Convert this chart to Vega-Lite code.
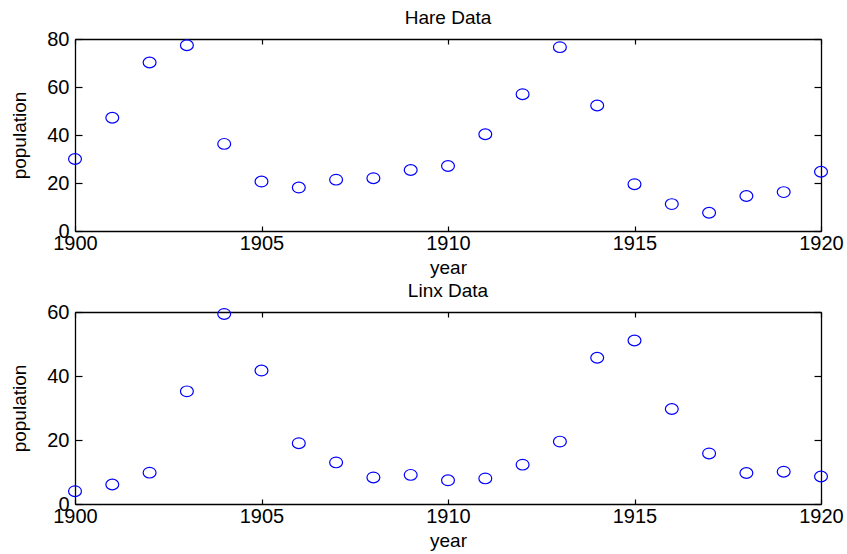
{
  "$schema": "https://vega.github.io/schema/vega-lite/v6.json",
  "background": "white",
  "padding": {"left": 10, "top": 9, "right": 2, "bottom": 2},
  "data": {"values": [
    {"year": 1900, "hare": 30.0, "lynx": 4.0},
    {"year": 1901, "hare": 47.2, "lynx": 6.1},
    {"year": 1902, "hare": 70.2, "lynx": 9.8},
    {"year": 1903, "hare": 77.4, "lynx": 35.2},
    {"year": 1904, "hare": 36.3, "lynx": 59.4},
    {"year": 1905, "hare": 20.6, "lynx": 41.7},
    {"year": 1906, "hare": 18.1, "lynx": 19.0},
    {"year": 1907, "hare": 21.4, "lynx": 13.0},
    {"year": 1908, "hare": 22.0, "lynx": 8.3},
    {"year": 1909, "hare": 25.4, "lynx": 9.1},
    {"year": 1910, "hare": 27.1, "lynx": 7.4},
    {"year": 1911, "hare": 40.3, "lynx": 8.0},
    {"year": 1912, "hare": 57.0, "lynx": 12.3},
    {"year": 1913, "hare": 76.6, "lynx": 19.5},
    {"year": 1914, "hare": 52.3, "lynx": 45.7},
    {"year": 1915, "hare": 19.5, "lynx": 51.1},
    {"year": 1916, "hare": 11.2, "lynx": 29.7},
    {"year": 1917, "hare": 7.6, "lynx": 15.8},
    {"year": 1918, "hare": 14.6, "lynx": 9.7},
    {"year": 1919, "hare": 16.2, "lynx": 10.1},
    {"year": 1920, "hare": 24.7, "lynx": 8.6}
  ]},
  "vconcat": [
    {
      "title": {"text": "Hare Data", "offset": 1},
      "width": 746,
      "height": 192,
      "layer": [
        {
          "mark": {"type": "point", "shape": "M-1.2,0A1.2,1 0 1,0 1.2,0A1.2,1 0 1,0 -1.2,0Z", "size": 115, "color": "#0000ff", "strokeWidth": 1.2, "filled": false, "opacity": 1, "clip": false},
          "encoding": {
            "x": {"field": "year", "type": "quantitative", "scale": {"domain": [1900, 1920], "nice": false, "zero": false}, "axis": {"orient": "bottom", "values": [1900, 1905, 1910, 1915, 1920], "format": "d", "title": "year", "tickSize": -5, "labelPadding": 7, "titlePadding": 5}},
            "y": {"field": "hare", "type": "quantitative", "scale": {"domain": [0, 80], "nice": false}, "axis": {"orient": "left", "values": [0, 20, 40, 60, 80], "title": "population", "tickSize": -7, "labelPadding": 13, "titlePadding": 17}}
          }
        },
        {
          "mark": {"type": "point", "opacity": 0},
          "encoding": {
            "x": {"field": "year", "type": "quantitative", "scale": {"domain": [1900, 1920], "nice": false, "zero": false}, "axis": {"orient": "top", "values": [1900, 1905, 1910, 1915, 1920], "labels": false, "title": null, "tickSize": -5}},
            "y": {"field": "hare", "type": "quantitative", "scale": {"domain": [0, 80], "nice": false}, "axis": {"orient": "right", "values": [0, 20, 40, 60, 80], "labels": false, "title": null, "tickSize": -7}}
          }
        }
      ],
      "resolve": {"axis": {"x": "independent", "y": "independent"}}
    },
    {
      "title": {"text": "Linx Data", "offset": 1},
      "width": 746,
      "height": 192,
      "layer": [
        {
          "mark": {"type": "point", "shape": "M-1.2,0A1.2,1 0 1,0 1.2,0A1.2,1 0 1,0 -1.2,0Z", "size": 115, "color": "#0000ff", "strokeWidth": 1.2, "filled": false, "opacity": 1, "clip": false},
          "encoding": {
            "x": {"field": "year", "type": "quantitative", "scale": {"domain": [1900, 1920], "nice": false, "zero": false}, "axis": {"orient": "bottom", "values": [1900, 1905, 1910, 1915, 1920], "format": "d", "title": "year", "tickSize": -5, "labelPadding": 7, "titlePadding": 5}},
            "y": {"field": "lynx", "type": "quantitative", "scale": {"domain": [0, 60], "nice": false}, "axis": {"orient": "left", "values": [0, 20, 40, 60], "title": "population", "tickSize": -7, "labelPadding": 13, "titlePadding": 17}}
          }
        },
        {
          "mark": {"type": "point", "opacity": 0},
          "encoding": {
            "x": {"field": "year", "type": "quantitative", "scale": {"domain": [1900, 1920], "nice": false, "zero": false}, "axis": {"orient": "top", "values": [1900, 1905, 1910, 1915, 1920], "labels": false, "title": null, "tickSize": -5}},
            "y": {"field": "lynx", "type": "quantitative", "scale": {"domain": [0, 60], "nice": false}, "axis": {"orient": "right", "values": [0, 20, 40, 60], "labels": false, "title": null, "tickSize": -7}}
          }
        }
      ],
      "resolve": {"axis": {"x": "independent", "y": "independent"}}
    }
  ],
  "spacing": 5,
  "config": {
    "font": "Liberation Sans",
    "view": {"stroke": null},
    "title": {"fontSize": 19, "fontWeight": "normal", "color": "black", "font": "Liberation Sans", "anchor": "middle"},
    "axis": {
      "grid": false,
      "domainColor": "black",
      "domainWidth": 1.3,
      "tickColor": "black",
      "tickWidth": 1.2,
      "labelFontSize": 20,
      "labelColor": "black",
      "labelFont": "Liberation Sans",
      "labelFlush": false,
      "labelOverlap": false,
      "titleFontSize": 19,
      "titleFontWeight": "normal",
      "titleColor": "black",
      "titleFont": "Liberation Sans"
    }
  }
}
